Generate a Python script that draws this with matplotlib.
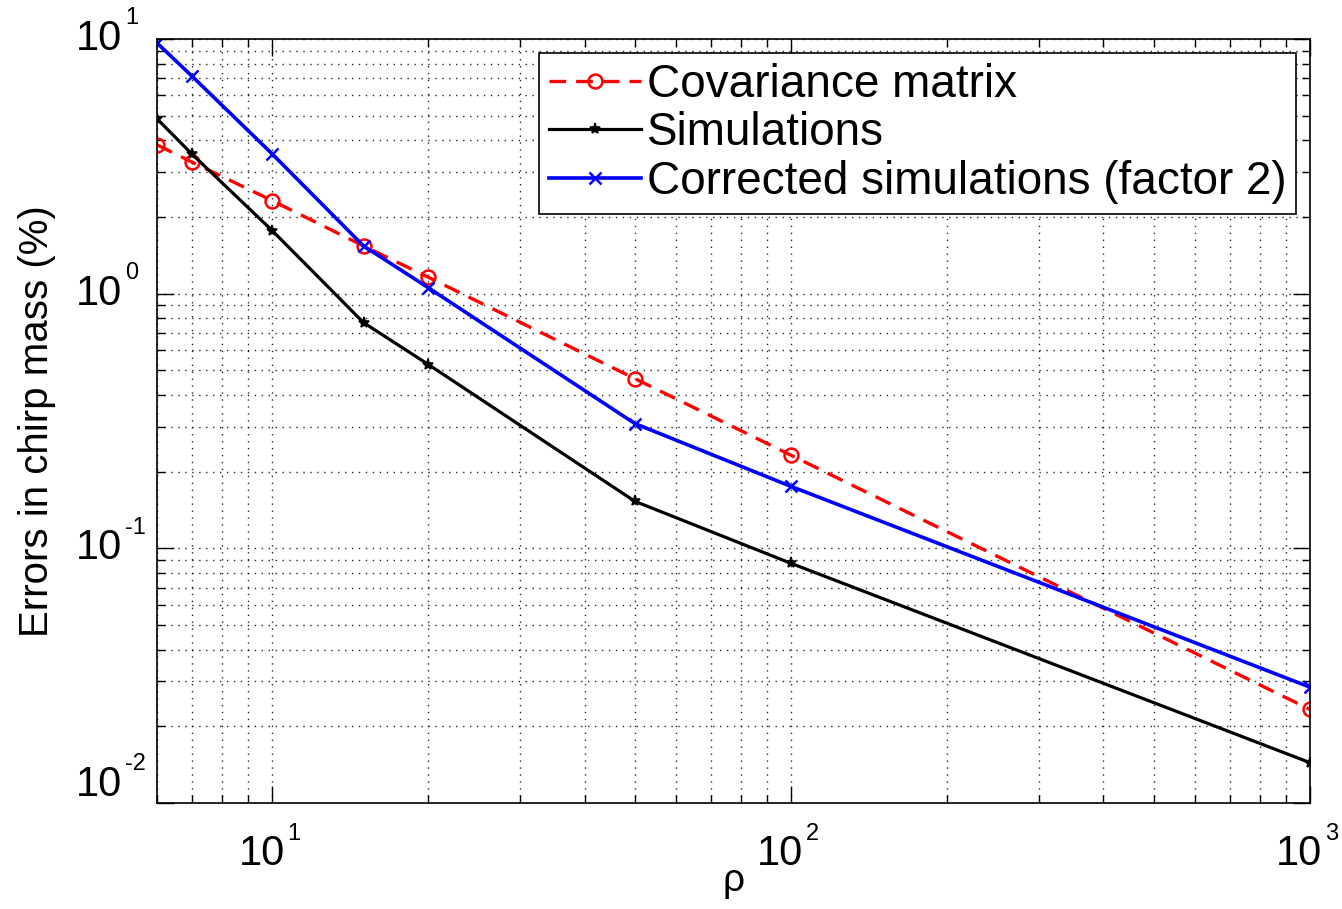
import matplotlib
matplotlib.use("Agg")
import matplotlib.pyplot as plt
from matplotlib.ticker import LogLocator, FixedLocator, NullFormatter

plt.rcParams['font.family'] = ['Liberation Sans', 'DejaVu Sans']

rho = [6, 7, 10, 15, 20, 50, 100, 1000]
covariance = [3.84, 3.29, 2.32, 1.54, 1.16, 0.464, 0.232, 0.0233]
simulations = [4.86, 3.54, 1.77, 0.77, 0.527, 0.153, 0.0873, 0.0144]
corrected = [9.65, 7.16, 3.54, 1.54, 1.055, 0.309, 0.175, 0.0285]

labels = ['Covariance matrix', 'Simulations', 'Corrected simulations (factor 2)']
xlabel = 'ρ'
ylabel = 'Errors in chirp mass (%)'
xtick_vals = [10, 100, 1000]
xtick_exps = ['1', '2', '3']
ytick_vals = [0.01, 0.1, 1, 10]
ytick_exps = ['-2', '-1', '0', '1']

fig = plt.figure(figsize=(13.42, 9.09), dpi=100)
ax = fig.add_axes([157/1342, 1 - 803/909, (1310-157)/1342, (803-39)/909])

ax.plot(rho, covariance, color='red', ls=(0, (5, 3)), lw=2.4, marker='o',
        mfc='none', mec='red', ms=10, mew=1.8, label=labels[0])
ax.plot(rho, simulations, color='black', ls='-', lw=2.3, marker='*',
        ms=8, mew=1.2, label=labels[1])
ax.plot(rho, corrected, color='blue', ls='-', lw=2.6, marker='x',
        ms=8, mew=1.8, label=labels[2])

ax.set_xscale('log')
ax.set_yscale('log')
ax.set_xlim(6, 1000)
ax.set_ylim(0.01, 10)

ax.xaxis.set_major_locator(FixedLocator(xtick_vals))
ax.yaxis.set_major_locator(FixedLocator(ytick_vals))
ax.xaxis.set_minor_locator(LogLocator(base=10, subs=range(2, 10)))
ax.yaxis.set_minor_locator(LogLocator(base=10, subs=range(2, 10)))
ax.xaxis.set_minor_formatter(NullFormatter())
ax.yaxis.set_minor_formatter(NullFormatter())

ax.tick_params(which='both', direction='in', top=True, right=True, width=1.0,
               colors='black', labelbottom=False, labelleft=False)
ax.tick_params(which='major', length=12)
ax.tick_params(which='minor', length=6)

# MATLAB-style tick labels: "10" with a small raised exponent
for v, e in zip(xtick_vals, xtick_exps):
    ax.annotate('10', xy=(v, 0), xycoords=('data', 'axes fraction'),
                xytext=(9, -37), textcoords='offset points',
                ha='right', va='center', fontsize=30)
    ax.annotate(e, xy=(v, 0), xycoords=('data', 'axes fraction'),
                xytext=(11, -22), textcoords='offset points',
                ha='left', va='center', fontsize=17)
for v, e in zip(ytick_vals, ytick_exps):
    dy = 13 if v == 0.01 else 0
    ax.annotate('10', xy=(0, v), xycoords=('axes fraction', 'data'),
                xytext=(-25, dy), textcoords='offset points',
                ha='right', va='center', fontsize=30)
    ax.annotate(e, xy=(0, v), xycoords=('axes fraction', 'data'),
                xytext=(-23, dy + 15), textcoords='offset points',
                ha='left', va='center', fontsize=17)

ax.grid(True, which='both', ls=(0, (1, 4)), color='black', lw=1.0, alpha=0.85)
for s in ax.spines.values():
    s.set_linewidth(1.2)

ax.set_xlabel(xlabel, fontsize=28, va='center')
ax.xaxis.set_label_coords(0.5, -0.102)
ax.set_ylabel(ylabel, fontsize=29)
ax.yaxis.set_label_coords(-0.088, 0.5)

leg = ax.legend(loc='upper right', fontsize=33, fancybox=False, framealpha=1,
                edgecolor='black', numpoints=1, handlelength=2.0, handletextpad=0.12,
                borderpad=0.22, labelspacing=0.1, borderaxespad=0.3)
leg.get_frame().set_linewidth(1.2)

fig.savefig('out.png', dpi=100)
